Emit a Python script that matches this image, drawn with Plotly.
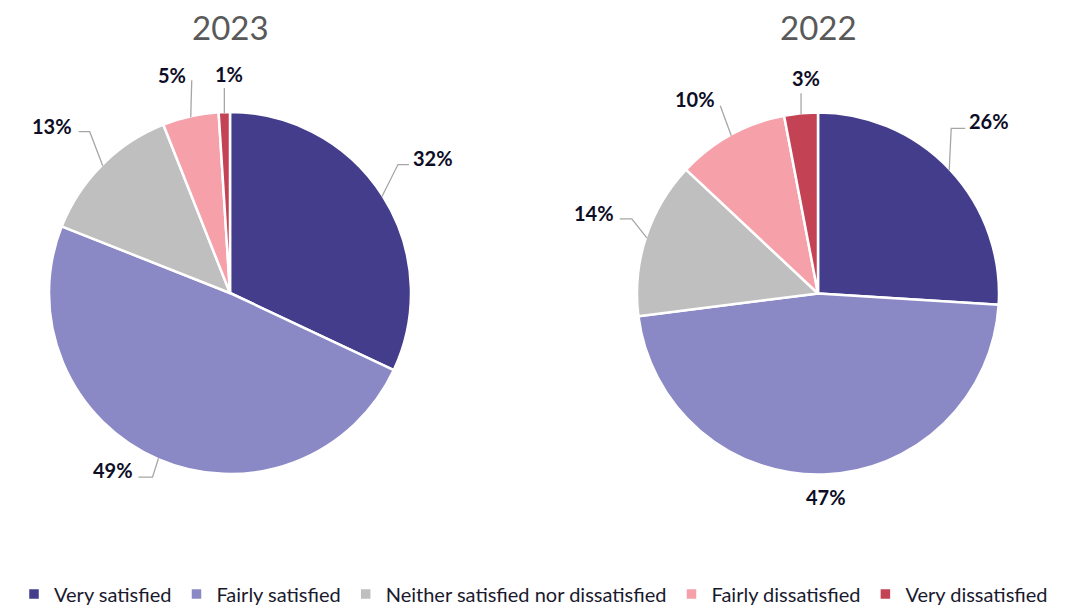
import math
import plotly.graph_objects as go

W, H = 1067, 607

categories = ["Very satisfied", "Fairly satisfied", "Neither satisfied nor dissatisfied",
              "Fairly dissatisfied", "Very dissatisfied"]
values_2023 = [32, 49, 13, 5, 1]
values_2022 = [26, 47, 14, 10, 3]
titles = ["2023", "2022"]

colors = ["#433D8B", "#8B88C6", "#BFBFBF", "#F6A0AA", "#C34254"]

# pie placement (pixels): center x, center y, radius
pies = [
    dict(values=values_2023, cx=230, cy=293, r=180, title=titles[0]),
    dict(values=values_2022, cx=818, cy=293.5, r=180, title=titles[1]),
]

# label offsets (pixels) relative to slice edge point, and leader polylines
label_offsets = [
    [(51, -39), (-46, 12), (-51, -40), (-19, -42), (5, -39)],
    [(40, -49), (2, 24), (-53, -25), (-36, -37), (5, -36)],
]
leader_lines = [
    [[(0, 0), (16, -32), (27, -32)],
     [(0, 0), (-6, 19), (-20, 19)],
     [(0, 0), (-13, -34), (-24, -34)],
     [(0, 0), (1, -37)],
     [(0, 0), (0, -25)]],
    [[(0, 0), (2, -42), (16, -42)],
     None,
     [(0, 0), (-15, -19), (-27, -19)],
     [(0, 0), (-11, -30)],
     [(0, 0), (0, -21)]],
]


def px(x):
    return x / W


def py(y):
    return 1 - y / H


fig = go.Figure()
annotations = []
shapes = []

for i, p in enumerate(pies):
    cx, cy, r = p["cx"], p["cy"], p["r"]
    rd = r + 1
    fig.add_trace(go.Pie(
        labels=categories,
        values=p["values"],
        sort=False,
        direction="clockwise",
        rotation=0,
        textinfo="none",
        hoverinfo="label+percent",
        marker=dict(colors=colors, line=dict(color="white", width=2.5)),
        domain=dict(x=[px(cx - rd), px(cx + rd)], y=[py(cy + rd), py(cy - rd)]),
        showlegend=True,
    ))
    annotations.append(dict(
        text=p["title"], x=px(cx), y=py(27), xref="paper", yref="paper",
        showarrow=False, xanchor="center", yanchor="middle",
        font=dict(family="Lato", size=33, color="#595959"),
    ))
    total = sum(p["values"])
    cum = 0
    for j, v in enumerate(p["values"]):
        mid = (cum + v / 2) / total * 2 * math.pi
        cum += v
        ex = cx + r * math.sin(mid)
        ey = cy - r * math.cos(mid)
        dx, dy = label_offsets[i][j]
        pct = round(v / total * 100)
        annotations.append(dict(
            text=f"<b>{pct}%</b>", x=px(ex + dx), y=py(ey + dy),
            xref="paper", yref="paper", showarrow=False,
            xanchor="center", yanchor="middle",
            font=dict(family="Lato", size=20, color="#0D0D26"),
        ))
        pts = leader_lines[i][j]
        if pts:
            path = "M " + " L ".join(f"{px(ex + a)},{py(ey + b)}" for a, b in pts)
            shapes.append(dict(type="path", path=path, xref="paper", yref="paper",
                               line=dict(color="#A6A6A6", width=1.3)))

fig.update_layout(
    width=W, height=H,
    margin=dict(l=0, r=0, t=0, b=0, autoexpand=False),
    paper_bgcolor="white", plot_bgcolor="white",
    annotations=annotations,
    shapes=shapes,
    legend=dict(orientation="h", x=0.5, xanchor="center", y=py(594), yanchor="middle",
                font=dict(family="Lato", size=20, color="#1A1A2E"),
                itemwidth=30, tracegroupgap=0),
    font=dict(family="Lato"),
)

fig.write_html("out.html")
